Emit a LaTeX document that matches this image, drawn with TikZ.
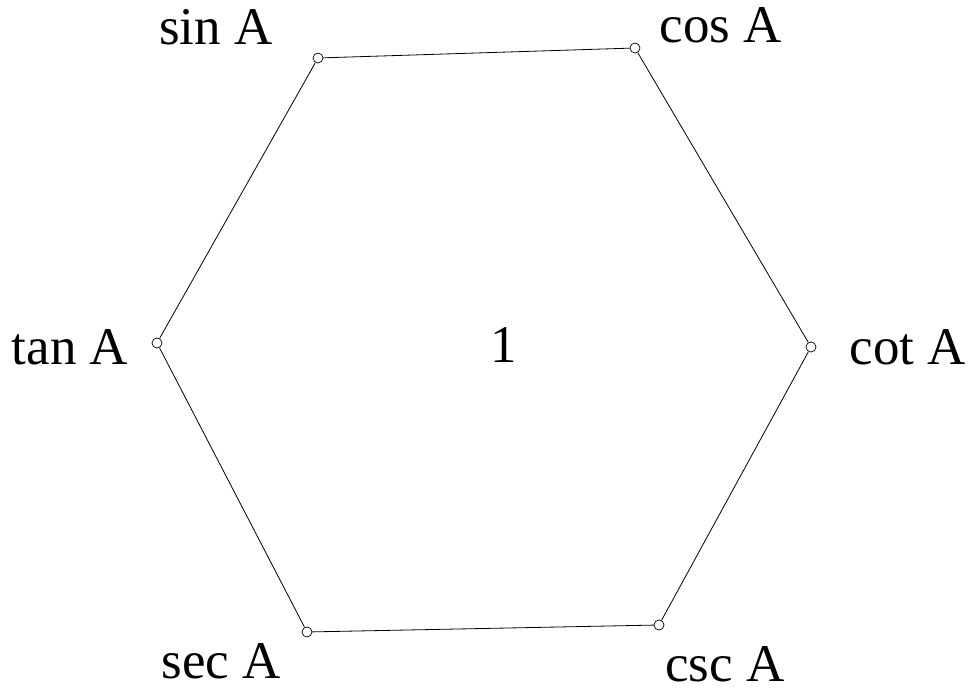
\documentclass[tikz,border=0pt]{standalone}
\usepackage{fontspec}
\setmainfont{Liberation Serif}
\begin{document}
\begin{tikzpicture}[x=1pt,y=1pt,
  vtx/.style={circle,draw,fill=white,inner sep=0pt,minimum size=10pt,line width=0.7pt},
  lbl/.style={anchor=base,inner sep=0pt,text depth=0pt,font=\fontsize{53}{53}\selectfont},
  edge/.style={line width=0.8pt}]
\useasboundingbox (0,0) rectangle (970,688);
\node[vtx] (s) at (318,630) {};
\node[vtx] (c) at (635,640) {};
\node[vtx] (ct) at (811,341) {};
\node[vtx] (cs) at (659,63) {};
\node[vtx] (se) at (307,56) {};
\node[vtx] (t) at (157,345) {};
\draw[edge] (s) -- (c);
\draw[edge] (c) -- (ct);
\draw[edge] (ct) -- (cs);
\draw[edge] (cs) -- (se);
\draw[edge] (se) -- (t);
\draw[edge] (t) -- (s);
\node[lbl] (ls) at (216,643) {sin A};
\node[lbl] (lc) at (721,645) {cos A};
\node[lbl] (lt) at (70,323) {tan A};
\node[lbl] (lct) at (908,323) {cot A};
\node[lbl] (lse) at (221,9) {sec A};
\node[lbl] (lcs) at (725,6) {csc A};
\node[lbl] (one) at (504,325) {1};
\end{tikzpicture}
\end{document}
